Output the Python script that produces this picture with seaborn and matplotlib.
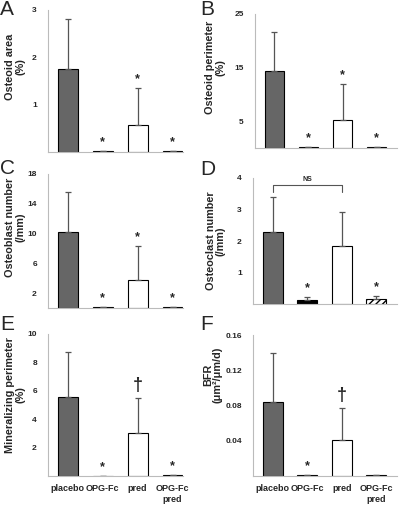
import numpy as np
import pandas as pd
import seaborn as sns
import matplotlib.pyplot as plt

# ---- data ----
groups = ["placebo", "OPG-Fc", "pred", "OPG-Fc\npred"]

area_mean = [1.75, 0.02, 0.58, 0.02]
area_sd = [1.07, 0.0, 0.78, 0.0]
perim_mean = [14.3, 0.2, 5.3, 0.2]
perim_sd = [7.3, 0.0, 6.6, 0.0]
ob_mean = [10.2, 0.1, 3.8, 0.1]
ob_sd = [5.4, 0.0, 4.5, 0.0]
oc_mean = [2.3, 0.12, 1.85, 0.15]
oc_sd = [1.1, 0.1, 1.07, 0.1]
mp_mean = [5.55, 0.03, 3.0, 0.07]
mp_sd = [3.2, 0.0, 2.5, 0.0]
bfr_mean = [0.084, 0.0006, 0.041, 0.0006]
bfr_sd = [0.056, 0.0, 0.036, 0.0]

marks_abc = ["", "*", "*", "*"]
marks_d = ["", "*", "", "*"]
marks_e = ["", "*", "\u2020", "*"]
marks_f = ["", "*", "\u2020", ""]

sns.set_style("white")
plt.rcParams["font.family"] = ["Liberation Sans", "DejaVu Sans"]
plt.rcParams["hatch.linewidth"] = 1.0

colors = {"placebo": "#666666", "OPG-Fc": "black", "pred": "white", "OPG-Fc\npred": "white"}

fig = plt.figure(figsize=(4.0, 5.07), dpi=100)
W, H = 400, 507


def px_axes(left, right, top, bottom):
    return fig.add_axes([left / W, 1 - bottom / H, (right - left) / W, (bottom - top) / H])


panels = [
    # letter, box (px), mean, sd, ylim top, ticks, tick labels, ylabel, label pos, marks, x labels
    ("A", (48, 183, 10, 152), area_mean, area_sd, 3, [1, 2, 3], ["1", "2", "3"],
     "Osteoid area\n(%)", (-0.17, 0.60), marks_abc, False),
    ("B", (255, 397, 14, 148), perim_mean, perim_sd, 25, [5, 15, 25], ["5", "15", "25"],
     "Osteoid perimeter\n(%)", (-0.21, 0.60), marks_abc, False),
    ("C", (48, 183, 174, 308), ob_mean, ob_sd, 18, [2, 6, 10, 14, 18], ["2", "6", "10", "14", "18"],
     "Osteoblast number\n(/mm)", (-0.17, 0.60), marks_abc, False),
    ("D", (253, 397, 178, 304), oc_mean, oc_sd, 4, [1, 2, 3, 4], ["1", "2", "3", "4"],
     "Osteoclast number\n(/mm)", (-0.19, 0.50), marks_d, False),
    ("E", (48, 183, 334, 476), mp_mean, mp_sd, 10, [2, 4, 6, 8, 10], ["2", "4", "6", "8", "10"],
     "Mineralizing perimeter\n(%)", (-0.17, 0.57), marks_e, True),
    ("F", (253, 397, 335, 476), bfr_mean, bfr_sd, 0.16, [0.04, 0.08, 0.12, 0.16],
     ["0.04", "0.08", "0.12", "0.16"],
     "BFR\n(\u03bcm\u00b2/\u03bcm/d)", (-0.21, 0.72), marks_f, True),
]

letter_pos = {"A": (0, 0), "B": (200, 0), "C": (0, 159), "D": (200, 160), "E": (0, 315), "F": (200, 315)}

for letter, box, mean, sd, ytop, ticks, tlabels, ylabel, lpos, marks, show_x in panels:
    ax = px_axes(*box)
    df = pd.DataFrame({"group": groups, "value": mean})
    sns.barplot(data=df, x="group", y="value", hue="group", palette=colors, legend=False,
                ax=ax, width=0.57, edgecolor="black", linewidth=0.8, saturation=1)
    ax.patches[3].set_hatch("/////")
    x = np.arange(len(groups))
    ax.errorbar(x, mean, yerr=[np.zeros(len(sd)), sd], fmt="none", ecolor="#555555",
                elinewidth=0.9, capsize=2, capthick=0.9, zorder=1)
    for xi, m, s, mk in zip(x, mean, sd, marks):
        if not mk:
            continue
        y = m + s
        if mk == "*":
            ax.text(xi, y + ytop * 0.02, mk, ha="center", va="bottom", fontsize=9,
                    fontweight="bold")
        else:
            ax.text(xi, y + ytop * 0.03, mk, ha="center", va="bottom", fontsize=13,
                    fontweight="bold")

    if letter == "D":
        yb, yt = 3.56, 3.78
        ax.plot([0, 0, 2, 2], [yb, yt, yt, yb], color="#555555", lw=0.8)
        ax.text(1, yt + 0.05, "NS", ha="center", va="bottom", fontsize=5, fontweight="bold")

    ax.set_ylim(0, ytop)
    ax.set_xlim(-0.57, 3.3 if box[0] < 200 else 3.6)
    ax.set_yticks(ticks)
    ax.set_yticklabels(tlabels, fontsize=6, fontweight="bold")
    ax.tick_params(axis="y", length=2, width=0.6, color="#bbbbbb", pad=6)
    ax.tick_params(axis="x", length=0, pad=6)
    if show_x:
        ax.set_xticks(x)
        ax.set_xticklabels(groups, fontsize=6.5, fontweight="bold", va="top")
    else:
        ax.set_xticks([])
    ax.set_xlabel("")
    ax.set_ylabel(ylabel, fontsize=7.8, fontweight="bold", linespacing=1.0)
    ax.yaxis.set_label_coords(*lpos)
    sns.despine(ax=ax)
    for sp in ("left", "bottom"):
        ax.spines[sp].set_color("#bbbbbb")
        ax.spines[sp].set_linewidth(0.8)

    lx, ly = letter_pos[letter]
    fig.text(lx / W, 1 - ly / H, letter, fontsize=15, ha="left", va="top")

fig.savefig("out.png", dpi=100)
